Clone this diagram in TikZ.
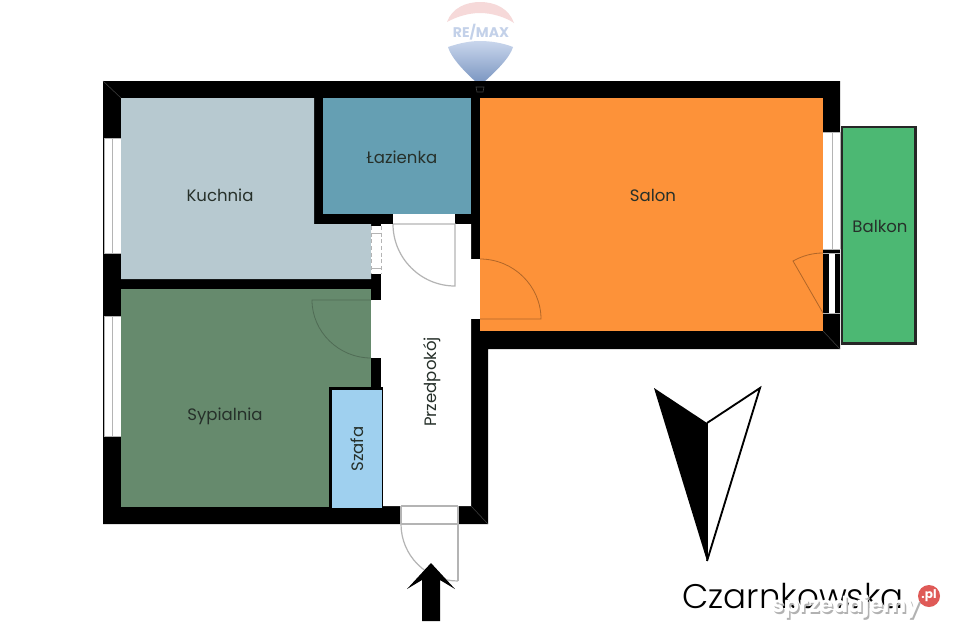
\documentclass[tikz,border=0pt]{standalone}
\usepackage{fontspec}
\setmainfont{Poppins}
\newfontfamily\lightface[UprightFont=* Light]{Poppins}
\usetikzlibrary{shadings}
\definecolor{kuch}{HTML}{B7C9D0}
\definecolor{lazi}{HTML}{659FB3}
\definecolor{salon}{HTML}{FD9239}
\definecolor{sypi}{HTML}{668A6D}
\definecolor{szaf}{HTML}{9FD0EF}
\definecolor{balk}{HTML}{4CB873}
\definecolor{doorl}{HTML}{B4B4B4}
\definecolor{ink}{HTML}{26302A}
\definecolor{logored}{HTML}{F6D9D9}
\definecolor{logotop}{HTML}{C9D6EC}
\definecolor{logomid}{HTML}{BFCEE8}
\definecolor{logolow}{HTML}{7C97C2}
\definecolor{logotext}{HTML}{C3D1E9}
\definecolor{plred}{HTML}{DF5A57}
\tikzset{
  leaf/.style={draw=doorl,line width=0.9pt},
  leafdark/.style={draw=black!30!salon,line width=0.6pt},
  leafgreen/.style={draw=black!22!sypi,line width=0.6pt},
  room/.style={font=\fontsize{12.4pt}{14pt}\selectfont,text=ink,inner sep=0pt},
  opening/.style={fill=white,draw=none},
  seam/.style={draw=black!75,line width=0.4pt}
}
\begin{document}
\begin{tikzpicture}[x=0.75pt,y=-0.75pt]
\useasboundingbox (0,0) rectangle (960,640);
\fill[white] (0,0) rectangle (960,640);
% RE/MAX balloon
\fill[logored] (447,22) .. controls (452,8) and (466,2) .. (480,2) .. controls (496,2) and (509,9) .. (514,23) .. controls (505,17) and (492,13) .. (480,13) .. controls (468,13) and (456,17) .. (447,22) -- cycle;
\shade[top color=logotop,middle color=logomid,bottom color=logolow] (448,47) .. controls (460,43) and (470,41) .. (480,41) .. controls (491,41) and (503,43) .. (513,47) .. controls (510,58) and (494,73) .. (484,82) -- (476,82) .. controls (466,73) and (451,58) .. (448,47) -- cycle;
\node[inner sep=0pt,text=logotext,font=\fontsize{10.5pt}{12pt}\selectfont\bfseries] (logo) at (481,32) {RE/MAX};
% walls
\fill[black] (103,81) -- (840,81) -- (840,349) -- (488,349) -- (488,524) -- (103,524) -- cycle;
% rooms
\fill[kuch] (121,98) -- (314,98) -- (314,224) -- (371,224) -- (371,279) -- (121,279) -- cycle;
\fill[lazi] (323,98) rectangle (471,214);
\fill[salon] (480,98) rectangle (823,331);
\fill[sypi] (121,289) rectangle (371,507);
\fill[white] (381,224) -- (471,224) -- (471,506) -- (383,506) -- (383,387) -- (381,387) -- cycle;
\fill[black] (329,387) rectangle (383,510);
\fill[szaf] (332,389.5) rectangle (381.5,508);
% corner seams and balloon basket
\draw[seam] (103,81) -- (121,98);
\draw[seam] (823,331) -- (840,349);
\draw[seam] (471,506) -- (488,524);
\draw[draw=black!75,line width=0.5pt] (476,87) -- (484,87) -- (483,92) -- (477,92) -- cycle;
% left windows
\fill[opening] (104,138) rectangle (121,253);
\fill[opening] (104,316) rectangle (121,436);
\draw[leaf,line width=0.7pt] (104,138) -- (104,253) (112,138) -- (112,253) (104,138) -- (121,138) (104,253) -- (121,253);
\draw[leaf,line width=0.7pt] (104,316) -- (104,436) (112,316) -- (112,436) (104,316) -- (121,316) (104,436) -- (121,436);
% right window
\fill[opening] (823,132) rectangle (840,249);
\draw[leaf,line width=0.7pt] (832,132) -- (832,249) (823,132) -- (840,132) (823,249) -- (840,249) (840,132) -- (840,249);
% balcony door
\fill[opening] (829,253) rectangle (834.5,313);
\draw[leaf,line width=0.5pt] (823,253) -- (840,253) (823,313) -- (840,313);
\draw[leafdark] (823,253) .. controls (812,253) and (802,256) .. (793,261) -- (823,313);
% balcony
\fill[balk,draw=black!85,line width=1.6pt] (842,127) rectangle (915.5,343.5);
% top door of the bathroom
\fill[opening] (393,214) rectangle (455,224);
\draw[leaf] (393,224) -- (455,224) -- (455,286) .. controls (420.8,286) and (393,258.2) .. (393,224);
% salon door
\fill[opening] (471,259) rectangle (480,319);
\draw[leafdark] (480,259) .. controls (513.5,259) and (541,286) .. (541,319) -- (480,319);
% sypialnia door
\fill[opening] (371,300) rectangle (381,358);
\draw[leafgreen] (371,300) -- (312,300) .. controls (312,332) and (339,358) .. (371,358);
% kuchnia door (dashed)
\fill[opening] (371,226) rectangle (381,274);
\draw[leaf,line width=0.6pt] (371,233) -- (381,233) (371,268) -- (381,268);
\draw[leaf,line width=0.6pt,dashed,dash pattern=on 3pt off 2pt] (371,226) -- (371,274) (381,226) -- (381,274);
% entrance door
\fill[opening] (401,506) rectangle (458,524);
\draw[leaf] (401,506) -- (401,524) (458,506) -- (458,581) (401,524) -- (458,524);
\draw[leaf] (401,524) .. controls (401,555.5) and (426.5,581) .. (458,581);
\draw[leaf] (401,506) -- (458,506);
% arrow
\fill[black] (431,563) -- (455,589) -- (440,580) -- (440,621) -- (422,621) -- (422,580) -- (407,589) -- cycle;
% compass
\fill[black] (654,388) -- (707,423) -- (707,561) -- cycle;
\draw[black,line width=1.4pt,line join=miter] (707,423) -- (760,388) -- (707,561);
\draw[black,line width=0.5pt] (707,423) -- (707,561);
% labels
\node[room] (kuchnia) at (220,195) {Kuchnia};
\node[room] (lazienka) at (402,157) {Łazienka};
\node[room] (salonlab) at (653,195) {Salon};
\node[room] (balkon) at (880,226) {Balkon};
\node[room] (sypialnia) at (225,416) {Sypialnia};
\node[room,rotate=90] (przed) at (432,382) {Przedpokój};
\node[room,rotate=90] (szafa) at (357,449) {Szafa};
\node[inner sep=0pt,text=black,font=\lightface\fontsize{25.6pt}{28pt}\selectfont] (street) at (793,596) {Czarnkowska};
% watermark
\node[inner sep=0pt,text=black!30,font=\fontsize{16.5pt}{18pt}\selectfont\bfseries] (wms) at (847.5,608.5) {sprzedajemy};
\node[inner sep=0pt,text=white,font=\fontsize{16.5pt}{18pt}\selectfont\bfseries] (wm) at (846,607) {sprzedajemy};
\node[circle,fill=plred,minimum size=16.5pt,inner sep=0pt,text=white,font=\fontsize{9pt}{10pt}\selectfont\bfseries] (pl) at (929,596) {.pl};
\end{tikzpicture}
\end{document}
